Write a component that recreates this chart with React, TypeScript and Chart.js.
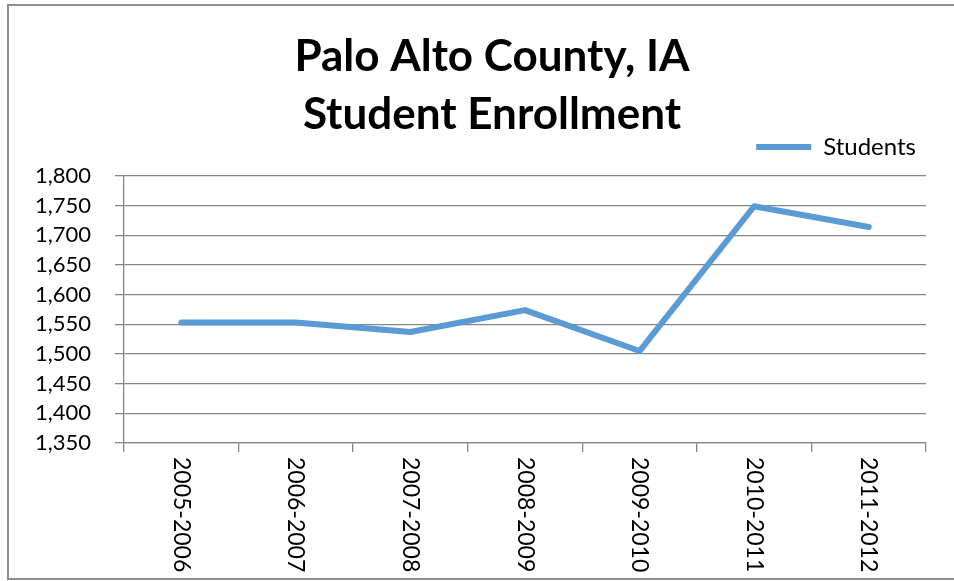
import React, { useEffect, useRef } from "react";
import { Chart, registerables } from "chart.js";

Chart.register(...registerables);

const categories = ["2005-2006", "2006-2007", "2007-2008", "2008-2009", "2009-2010", "2010-2011", "2011-2012"];
const students = [1553, 1553, 1537, 1574, 1505, 1749, 1714];
const titleLines = ["Palo Alto County, IA", "Student Enrollment"];
const seriesName = "Students";
const yMin = 1350;
const yMax = 1800;
const yStep = 50;

const FONT = "Lato, 'Open Sans', sans-serif";

const framePlugin = {
  id: "frame",
  beforeDraw(chart: any) {
    const ctx = chart.ctx;
    ctx.save();
    ctx.fillStyle = "#ffffff";
    ctx.fillRect(0, 0, chart.width, chart.height);
    ctx.strokeStyle = "#8e8e8e";
    ctx.lineWidth = 2;
    ctx.beginPath();
    ctx.moveTo(954, 5);
    ctx.lineTo(8, 5);
    ctx.lineTo(8, 579);
    ctx.lineTo(954, 579);
    ctx.stroke();
    ctx.restore();
  },
};

const xLabelPlugin = {
  id: "xLabels",
  afterDraw(chart: any) {
    const scale = chart.scales.x;
    const ctx = chart.ctx;
    ctx.save();
    ctx.font = `23px ${FONT}`;
    ctx.fillStyle = "#000000";
    ctx.textAlign = "left";
    ctx.textBaseline = "middle";
    categories.forEach((label, i) => {
      const x = scale.getPixelForValue(i);
      const y = scale.top + 14;
      ctx.save();
      ctx.translate(x, y);
      ctx.rotate(Math.PI / 2);
      ctx.fillText(label, 0, 0);
      ctx.restore();
    });
    ctx.restore();
  },
};

const legendSpacer = {
  id: "legendSpacer",
  beforeInit(chart: any) {
    const legend = chart.legend;
    if (!legend) return;
    const origFit = legend.fit;
    legend.fit = function () {
      origFit.call(this);
      this.height += 7;
    };
  },
};

export default function App() {
  const ref = useRef<HTMLCanvasElement | null>(null);

  useEffect(() => {
    if (!ref.current) return;
    const chart = new Chart(ref.current, {
      type: "line",
      data: {
        labels: categories,
        datasets: [
          {
            label: seriesName,
            data: students,
            borderColor: "#5B9BD5",
            backgroundColor: "#5B9BD5",
            borderWidth: 6,
            pointRadius: 0,
            pointHoverRadius: 0,
            tension: 0,
            borderCapStyle: "round",
            borderJoinStyle: "round",
            fill: false,
          },
        ],
      },
      plugins: [framePlugin, legendSpacer, xLabelPlugin],
      options: {
        animation: false,
        responsive: false,
        maintainAspectRatio: false,
        layout: { padding: { left: 30, right: 0, top: 0, bottom: 0 } },
        plugins: {
          title: {
            display: true,
            text: titleLines,
            color: "#000000",
            font: { family: FONT, size: 44, weight: "bold", lineHeight: "58px" },
            padding: { top: 28, bottom: -19 },
          },
          legend: {
            display: true,
            position: "top",
            align: "end",
            fullSize: false,
            labels: {
              usePointStyle: true,
              pointStyle: "line",
              pointStyleWidth: 55,
              boxWidth: 55,
              padding: 10,
              color: "#000000",
              font: { family: FONT, size: 24 },
            },
          },
          tooltip: { enabled: false },
        },
        scales: {
          x: {
            type: "category",
            offset: true,
            afterFit(scale: any) {
              scale.height = 138;
            },
            grid: {
              display: true,
              drawOnChartArea: false,
              drawTicks: true,
              tickLength: 9,
              offset: true,
              color: "#868686",
              lineWidth: 1.3,
            },
            border: { display: true, color: "#868686", width: 1.3 },
            ticks: { display: false },
          },
          y: {
            type: "linear",
            position: "left",
            min: yMin,
            max: yMax,
            afterFit(scale: any) {
              scale.width = 94;
            },
            ticks: {
              stepSize: yStep,
              padding: 24,
              color: "#000000",
              font: { family: FONT, size: 22 },
              callback: (v: any) => Number(v).toLocaleString("en-US"),
            },
            grid: {
              color: "#868686",
              lineWidth: 1.3,
              tickLength: 9,
              drawTicks: true,
            },
            border: { display: true, color: "#868686", width: 1.3 },
          },
          yRight: {
            type: "linear",
            position: "right",
            display: true,
            min: yMin,
            max: yMax,
            afterFit(scale: any) {
              scale.width = 28;
            },
            ticks: { display: false },
            grid: { display: false, drawOnChartArea: false },
            border: { display: false },
          },
        },
      },
    });
    return () => chart.destroy();
  }, []);

  return (
    <div style={{ position: "fixed", left: 0, top: 0, width: 954, height: 581 }}>
      <canvas ref={ref} width={954} height={581} style={{ display: "block", width: 954, height: 581 }} />
    </div>
  );
}
